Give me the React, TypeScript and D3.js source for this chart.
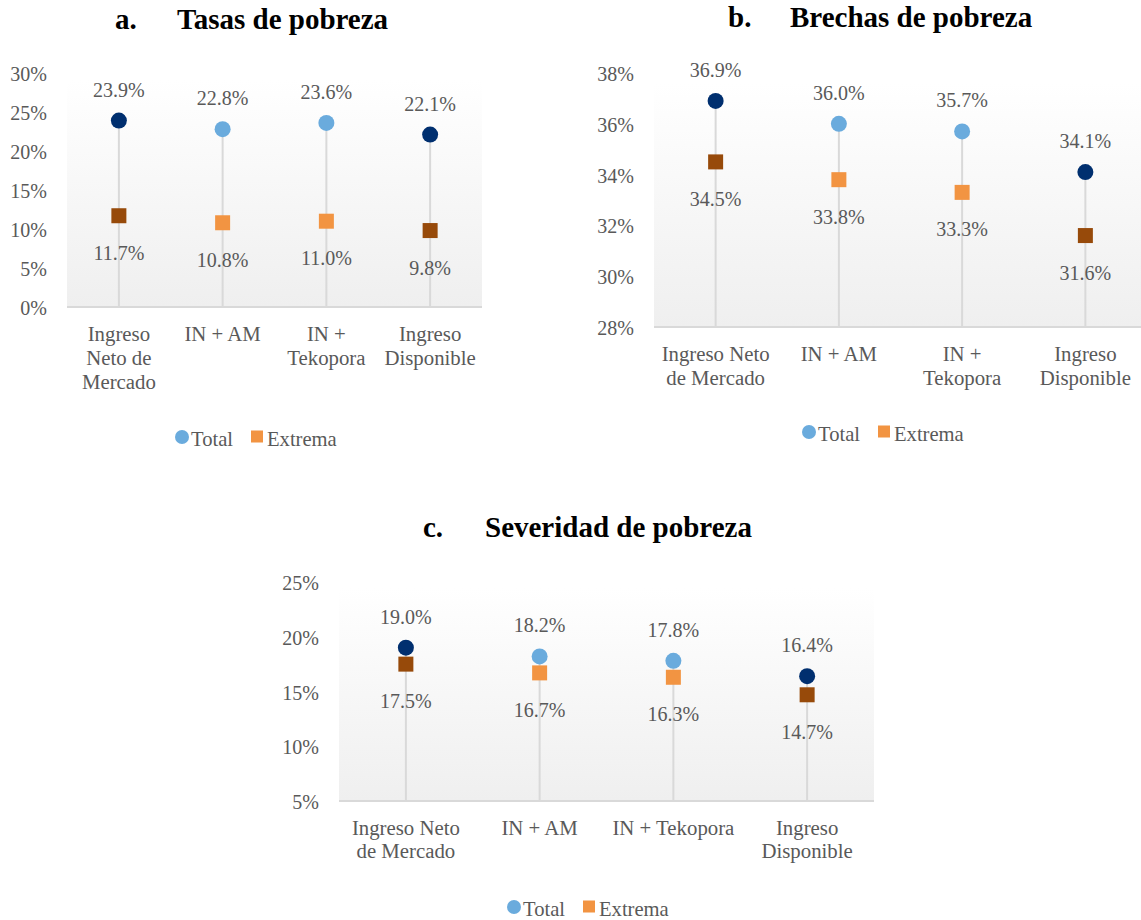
import React from "react";
import * as d3 from "d3";

// ---------- DATA ----------
const categoryKeys = ["INM", "INAM", "INTK", "ID"];

const labelsA = [["Ingreso", "Neto de", "Mercado"], ["IN + AM"], ["IN +", "Tekopora"], ["Ingreso", "Disponible"]];
const labelsB = [["Ingreso Neto", "de Mercado"], ["IN + AM"], ["IN +", "Tekopora"], ["Ingreso", "Disponible"]];
const labelsC = [["Ingreso Neto", "de Mercado"], ["IN + AM"], ["IN + Tekopora"], ["Ingreso", "Disponible"]];

const totalA = [23.9, 22.8, 23.6, 22.1];
const extremaA = [11.7, 10.8, 11.0, 9.8];
const ticksA = [0, 5, 10, 15, 20, 25, 30];

const totalB = [36.9, 36.0, 35.7, 34.1];
const extremaB = [34.5, 33.8, 33.3, 31.6];
const ticksB = [28, 30, 32, 34, 36, 38];

const totalC = [19.0, 18.2, 17.8, 16.4];
const extremaC = [17.5, 16.7, 16.3, 14.7];
const ticksC = [5, 10, 15, 20, 25];

const seriesNames = ["Total", "Extrema"];

// ---------- STYLE ----------
const NAVY = "#002F6F";
const LIGHT_BLUE = "#6AABDD";
const BROWN = "#974A0A";
const ORANGE = "#F29442";
const TEXT = "#595959";
const GRID = "#D9D9D9";
const FONT = "'Liberation Serif', 'Times New Roman', serif";
const darkIdx = new Set([0, 3]);

type Layout = {
  id: string;
  letter: string;
  title: string;
  letterX: number;
  titleX: number;
  titleY: number;
  xRange: [number, number];
  yPix: [number, number];
  plotTop: number;
  tickX: number;
  catY: number;
  catLH: number;
  legendX: number;
  legendY: number;
};

function Panel({ lay, total, extrema, ticks, labels }: { lay: Layout; total: number[]; extrema: number[]; ticks: number[]; labels: string[][] }) {
  const x = d3.scaleBand<string>().domain(categoryKeys).range(lay.xRange);
  const y = d3.scaleLinear().domain([ticks[0], ticks[ticks.length - 1]]).range(lay.yPix);
  const cx = (i: number) => (x(categoryKeys[i]) as number) + x.bandwidth() / 2;
  const base = y(ticks[0]);
  const gid = "grad-" + lay.id;
  return (
    <g>
      <defs>
        <linearGradient id={gid} x1="0" y1="0" x2="0" y2="1">
          <stop offset="0" stopColor="#ffffff" />
          <stop offset="1" stopColor="#efefef" />
        </linearGradient>
      </defs>
      <text x={lay.letterX} y={lay.titleY} fontFamily={FONT} fontWeight="bold" fontSize={29} fill="#000">{lay.letter}</text>
      <text x={lay.titleX} y={lay.titleY} fontFamily={FONT} fontWeight="bold" fontSize={29} fill="#000">{lay.title}</text>
      <rect x={lay.xRange[0]} y={lay.plotTop} width={lay.xRange[1] - lay.xRange[0]} height={base - lay.plotTop} fill={`url(#${gid})`} />
      {ticks.map((t) => (
        <text key={t} x={lay.tickX} y={y(t)} dy="0.4em" textAnchor="end" fontFamily={FONT} fontSize={20} fill={TEXT}>{t}%</text>
      ))}
      <line x1={lay.xRange[0]} x2={lay.xRange[1]} y1={base} y2={base} stroke={GRID} strokeWidth={2} />
      {categoryKeys.map((k, i) => (
        <line key={"l" + k} x1={cx(i)} x2={cx(i)} y1={y(Math.max(total[i], extrema[i]))} y2={base} stroke={GRID} strokeWidth={2} />
      ))}
      {categoryKeys.map((k, i) => (
        <g key={"m" + k}>
          <rect x={cx(i) - 7.5} y={y(extrema[i]) - 7.5} width={15} height={15} fill={darkIdx.has(i) ? BROWN : ORANGE} />
          <circle cx={cx(i)} cy={y(total[i])} r={8} fill={darkIdx.has(i) ? NAVY : LIGHT_BLUE} />
          <text x={cx(i)} y={y(total[i]) - 31} dy="0.35em" textAnchor="middle" fontFamily={FONT} fontSize={20} fill={TEXT}>{total[i].toFixed(1)}%</text>
          <text x={cx(i)} y={y(extrema[i]) + 37} dy="0.35em" textAnchor="middle" fontFamily={FONT} fontSize={20} fill={TEXT}>{extrema[i].toFixed(1)}%</text>
        </g>
      ))}
      {labels.map((lines, i) => (
        <text key={"c" + i} textAnchor="middle" fontFamily={FONT} fontSize={20.8} fill={TEXT}>
          {lines.map((ln, j) => (
            <tspan key={j} x={cx(i)} y={lay.catY + j * lay.catLH}>{ln}</tspan>
          ))}
        </text>
      ))}
      <g>
        <circle cx={lay.legendX} cy={lay.legendY} r={7} fill={LIGHT_BLUE} />
        <text x={lay.legendX + 9} y={lay.legendY} dy="0.45em" fontFamily={FONT} fontSize={20.6} fill={TEXT}>{seriesNames[0]}</text>
        <rect x={lay.legendX + 69} y={lay.legendY - 6.5} width={12} height={12} fill={ORANGE} />
        <text x={lay.legendX + 85} y={lay.legendY} dy="0.45em" fontFamily={FONT} fontSize={20.6} fill={TEXT}>{seriesNames[1]}</text>
      </g>
    </g>
  );
}

const layA: Layout = { id: "a", letter: "a.", title: "Tasas de pobreza", letterX: 115, titleX: 177, titleY: 29, xRange: [67, 482], yPix: [307, 73], plotTop: 80, tickX: 47, catY: 341, catLH: 24, legendX: 182, legendY: 437 };
const layB: Layout = { id: "b", letter: "b.", title: "Brechas de pobreza", letterX: 728, titleX: 790, titleY: 27, xRange: [654, 1147], yPix: [327, 73], plotTop: 83, tickX: 634, catY: 361, catLH: 24, legendX: 809, legendY: 432 };
const layC: Layout = { id: "c", letter: "c.", title: "Severidad de pobreza", letterX: 423, titleX: 485, titleY: 537, xRange: [339, 874], yPix: [801, 582], plotTop: 588, tickX: 319, catY: 835, catLH: 23, legendX: 514, legendY: 907 };

export default function App() {
  return (
    <svg width={1141} height={920} style={{ position: "absolute", left: 0, top: 0, background: "#fff" }}>
      <rect width={1141} height={920} fill="#fff" />
      <Panel lay={layA} total={totalA} extrema={extremaA} ticks={ticksA} labels={labelsA} />
      <Panel lay={layB} total={totalB} extrema={extremaB} ticks={ticksB} labels={labelsB} />
      <Panel lay={layC} total={totalC} extrema={extremaC} ticks={ticksC} labels={labelsC} />
    </svg>
  );
}
